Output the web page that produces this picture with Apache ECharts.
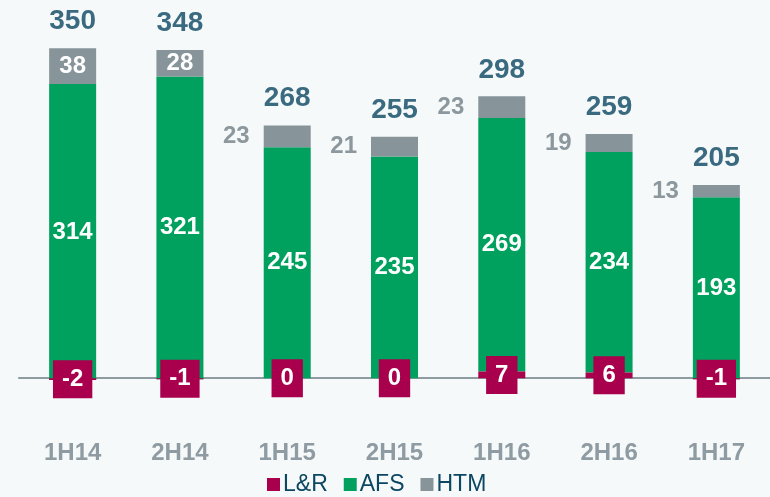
<!DOCTYPE html>
<html>
<head>
<meta charset="utf-8">
<script src="https://cdn.jsdelivr.net/npm/echarts@6/dist/echarts.min.js"></script>
<style>
  html, body { margin: 0; padding: 0; background: #f6f9f9; }
  #chart { width: 770px; height: 497px; }
</style>
</head>
<body>
<div id="chart"></div>
<script>
const categories = ['1H14', '2H14', '1H15', '2H15', '1H16', '2H16', '1H17']
const lrValues = [-2, -1, 0, 0, 7, 6, -1]
const afsValues = [314, 321, 245, 235, 269, 234, 193]
const htmValues = [38, 28, 23, 21, 23, 19, 13]
const totals = [350, 348, 268, 255, 298, 259, 205]

const FONT = '"Liberation Sans", Arial, sans-serif'
const NAVY = '#0b4662'
const GREEN = '#00a05f'
const GREY = '#87949a'
const CRIMSON = '#a8004c'

const chart = echarts.init(document.getElementById('chart'))

// HTM: label inside when the segment is tall enough, otherwise on the left
const htmData = htmValues.map(v => {
  const inside = v >= 25
  return {
    value: v,
    label: inside
      ? { position: 'inside', color: '#fff' }
      : { position: 'left', distance: 14, color: '#8c989e' }
  }
})

const option = {
  backgroundColor: '#f6f9f9',
  animation: false,
  textStyle: { fontFamily: FONT },
  grid: { left: 19, right: 0, top: 1, bottom: 24.5, containLabel: false, outerBoundsMode: 'none' },
  legend: {
    left: 267,
    top: 473,
    padding: 0,
    icon: 'rect',
    itemWidth: 13,
    itemHeight: 13,
    itemGap: 16,
    textStyle: { fontSize: 23, color: NAVY, fontFamily: FONT, padding: [0, 0, 0, -2] },
    data: ['L&R', 'AFS', 'HTM']
  },
  xAxis: {
    type: 'category',
    data: categories,
    axisLine: { onZero: true, lineStyle: { color: '#8e9ba1', width: 2 } },
    axisTick: { show: false },
    // 标签按网格底边定位，所以用负的 margin 拉回到零线下方
    axisLabel: { margin: -31, fontSize: 24, fontWeight: 'bold', color: '#8f9ba2', fontFamily: FONT }
  },
  yAxis: {
    type: 'value',
    min: -100,
    max: 400,
    interval: 100,
    show: false,
    splitLine: { show: false }
  },
  series: [
    {
      name: 'L&R',
      type: 'bar',
      stack: 'total',
      stackStrategy: 'all',
      barWidth: 47,
      data: lrValues,
      itemStyle: { color: CRIMSON },
      label: {
        show: true,
        position: 'inside',
        color: '#fff',
        fontSize: 24,
        fontWeight: 'bold',
        fontFamily: FONT,
        backgroundColor: CRIMSON,
        padding: [7, 9],
        lineHeight: 24
      },
      z: 3
    },
    {
      name: 'AFS',
      type: 'bar',
      stack: 'total',
      stackStrategy: 'all',
      barWidth: 47,
      data: afsValues,
      itemStyle: { color: GREEN },
      label: {
        show: true,
        position: 'inside',
        color: '#fff',
        fontSize: 24,
        fontWeight: 'bold',
        fontFamily: FONT
      },
      z: 2
    },
    {
      name: 'HTM',
      type: 'bar',
      stack: 'total',
      stackStrategy: 'all',
      barWidth: 47,
      data: htmData,
      itemStyle: { color: GREY },
      label: {
        show: true,
        fontSize: 24,
        fontWeight: 'bold',
        fontFamily: FONT
      },
      z: 2
    },
    {
      // 合计标签
      name: 'Total',
      type: 'scatter',
      data: totals,
      symbolSize: 0,
      silent: true,
      label: {
        show: true,
        position: 'top',
        distance: 13,
        color: NAVY,
        fontSize: 28,
        fontWeight: 'bold',
        fontFamily: FONT
      },
      z: 4
    }
  ]
}

chart.setOption(option)
</script>
</body>
</html>
